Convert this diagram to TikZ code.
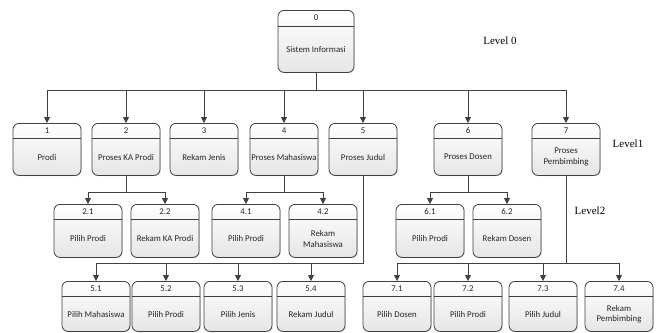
\documentclass[tikz,border=0pt]{standalone}
\usepackage{fontspec}
\setmainfont{Carlito}
\newfontfamily\levelfont{Liberation Serif}
\usetikzlibrary{arrows.meta,shadows}
\definecolor{lc}{HTML}{404040}
\tikzset{
  procbox/.style={draw=lc, line width=0.8pt, rounded corners=6pt, minimum width=68pt,
    top color=white, bottom color=black!10, inner sep=0pt,
    drop shadow={shadow xshift=0.8pt, shadow yshift=-0.8pt, opacity=0.25}},
  numtext/.style={font=\fontsize{8.8}{10}\selectfont, inner sep=0pt, text=black!85},
  maintext/.style={font=\fontsize{8.8}{10.8}\selectfont, inner sep=0pt, align=center, text=black!85},
  hdr/.style={draw=lc, line width=0.8pt},
  conn/.style={draw=lc, line width=0.8pt, -{Triangle[length=6pt,width=6pt]}},
  plainline/.style={draw=lc, line width=0.8pt},
  levellabel/.style={font=\levelfont\fontsize{11}{12}\selectfont, inner sep=0pt}
}
% name, center x, top y, height, number, text
\newcommand\procnode[6]{%
  \node[procbox, minimum height=#4pt, anchor=north] (#1) at (#2,#3) {};
  \draw[hdr] ([yshift=-15.5pt]#1.north west) -- ([yshift=-15.5pt]#1.north east);
  \node[numtext] (#1num) at ([yshift=-7.75pt]#1.north) {#5};
  \node[maintext] (#1txt) at ([yshift=-7.75pt]#1.center) {#6};
}
\begin{document}
\begin{tikzpicture}[x=1pt, y={(0,-1pt)}]
\useasboundingbox (0,0) rectangle (661,332);
% level 0
\node[procbox, minimum width=76pt, minimum height=62pt, anchor=north] (n0) at (316,10) {};
\draw[hdr] ([yshift=-16pt]n0.north west) -- ([yshift=-16pt]n0.north east);
\node[numtext] (n0num) at ([yshift=-8pt]n0.north) {0};
\node[maintext] (n0txt) at ([yshift=-8pt]n0.center) {Sistem Informasi};
% level 1
\procnode{n1}{47}{123}{52}{1}{Prodi}
\procnode{n2}{126}{123}{52}{2}{Proses KA Prodi}
\procnode{n3}{204}{123}{52}{3}{Rekam Jenis}
\procnode{n4}{284}{123}{52}{4}{Proses Mahasiswa}
\procnode{n5}{363}{123}{52}{5}{Proses Judul}
\procnode{n6}{468}{123}{52}{6}{Proses Dosen}
\procnode{n7}{566}{123}{52}{7}{Proses\\Pembimbing}
% level 2
\procnode{n21}{88}{204}{53}{2.1}{Pilih Prodi}
\procnode{n22}{165}{204}{53}{2.2}{Rekam KA Prodi}
\procnode{n41}{246}{204}{53}{4.1}{Pilih Prodi}
\procnode{n42}{323}{204}{53}{4.2}{Rekam\\Mahasiswa}
\procnode{n61}{430}{204}{53}{6.1}{Pilih Prodi}
\procnode{n62}{507}{204}{53}{6.2}{Rekam Dosen}
% level 3
\procnode{n51}{96}{281}{50}{5.1}{Pilih Mahasiswa}
\procnode{n52}{166}{281}{50}{5.2}{Pilih Prodi}
\procnode{n53}{238}{281}{50}{5.3}{Pilih Jenis}
\procnode{n54}{311}{281}{50}{5.4}{Rekam Judul}
\procnode{n71}{397}{281}{50}{7.1}{Pilih Dosen}
\procnode{n72}{468}{281}{50}{7.2}{Pilih Prodi}
\procnode{n73}{543}{281}{50}{7.3}{Pilih Judul}
\procnode{n74}{619}{281}{50}{7.4}{Rekam\\Pembimbing}
% connectors level 0 -> level 1
\coordinate (b0) at ([yshift=-18pt]n0.south);
\draw[plainline] (n0.south) -- (b0);
\foreach \c in {n1,n2,n3,n4,n5,n6,n7}{
  \draw[conn] (b0) -| (\c.north);
}
% level 1 -> level 2
\foreach \p/\a/\b in {n2/n21/n22, n4/n41/n42, n6/n61/n62}{
  \coordinate (b\p) at ([yshift=-17pt]\p.south);
  \draw[plainline] (\p.south) -- (b\p);
  \draw[conn] (b\p) -| (\a.north);
  \draw[conn] (b\p) -| (\b.north);
}
% level 1 -> level 3
\foreach \p/\list in {n5/{n51,n52,n53,n54}, n7/{n71,n72,n73,n74}}{
  \coordinate (b\p) at ([yshift=-88pt]\p.south);
  \draw[plainline] (\p.south) -- (b\p);
  \foreach \c in \list{
    \draw[conn] (b\p) -| (\c.north);
  }
}
% level labels
\node[levellabel] (lv0) at (500,41) {Level 0};
\node[levellabel] (lv1) at (628,144) {Level1};
\node[levellabel] (lv2) at (590,211) {Level2};
\end{tikzpicture}
\end{document}
